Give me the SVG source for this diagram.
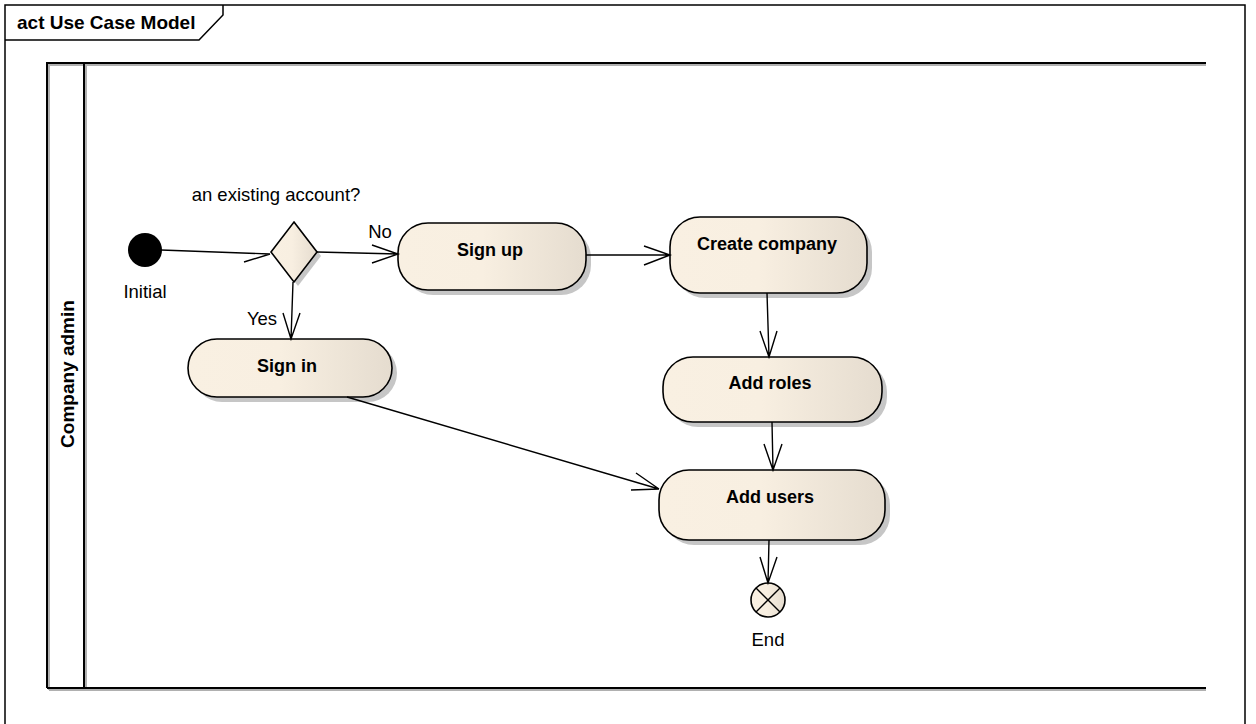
<svg xmlns="http://www.w3.org/2000/svg" width="1256" height="724" viewBox="0 0 1256 724">
  <style>
    .frame { fill: none; stroke: #000; stroke-width: 1.5; }
    .lane { fill: none; stroke: #000; stroke-width: 2; }
    .laneShadow { fill: none; stroke: #b0b0b0; stroke-width: 2; }
    .act { fill: url(#actFill); stroke: #000; stroke-width: 1.6; }
    .shadow { fill: #c6c6c6; stroke: none; }
    .edge { fill: none; stroke: #000; stroke-width: 1.4; }
    .title { font-family: "Liberation Sans", Arial, sans-serif; font-weight: bold; font-size: 19px; fill: #000; }
    .label { font-family: "Liberation Sans", Arial, sans-serif; font-weight: bold; font-size: 18px; fill: #000; text-anchor: middle; }
    .note { font-family: "Liberation Sans", Arial, sans-serif; font-size: 18.5px; fill: #000; text-anchor: middle; }
  </style>
  <defs>
    <linearGradient id="actFill" x1="0" y1="0" x2="1" y2="0">
      <stop offset="0" stop-color="#f9f0e2"/>
      <stop offset="0.45" stop-color="#f8efe1"/>
      <stop offset="1" stop-color="#e5dccf"/>
    </linearGradient>
  </defs>

  <rect width="1256" height="724" fill="#fff"/>

  <!-- diagram frame and title tab -->
  <g id="frame">
    <path class="frame" d="M5,724 V5 H1245 V724"/>
    <path class="frame" d="M5,40 H199 L223,15 V5"/>
    <text class="title" x="17" y="29">act Use Case Model</text>
  </g>

  <!-- swimlane -->
  <g id="lane-company-admin">
    <path class="laneShadow" d="M49,690 V65 H1206 M86,65 V690 M49,690 H1206"/>
    <path class="lane" d="M47,688 V63 H1206 M84,63 V688 M47,688 H1206"/>
    <text class="label" style="font-size:19px" transform="translate(74,374) rotate(-90)">Company admin</text>
  </g>

  <!-- initial node -->
  <g id="initial">
    <circle cx="145" cy="250" r="17" fill="#000"/>
    <text class="note" x="145" y="298">Initial</text>
  </g>

  <!-- decision -->
  <g id="decision">
    <path class="shadow" d="M298,226 L321,256 L298,286 L275,256 Z"/>
    <path class="act" d="M294,222 L317,252 L294,282 L271,252 Z"/>
  </g>

  <g id="sign-up">
    <rect class="shadow" x="403" y="228" width="188" height="67" rx="30"/>
    <rect class="act" x="398" y="223" width="188" height="67" rx="30"/>
    <text class="label" x="490" y="256">Sign up</text>
  </g>

  <g id="create-company">
    <rect class="shadow" x="675" y="222" width="197" height="76" rx="30"/>
    <rect class="act" x="670" y="217" width="197" height="76" rx="30"/>
    <text class="label" x="767" y="250">Create company</text>
  </g>

  <g id="add-roles">
    <rect class="shadow" x="668" y="362" width="219" height="65" rx="30"/>
    <rect class="act" x="663" y="357" width="219" height="65" rx="30"/>
    <text class="label" x="770" y="389">Add roles</text>
  </g>

  <g id="add-users">
    <rect class="shadow" x="664" y="475" width="226" height="70" rx="30"/>
    <rect class="act" x="659" y="470" width="226" height="70" rx="30"/>
    <text class="label" x="770" y="503">Add users</text>
  </g>

  <g id="sign-in">
    <rect class="shadow" x="193" y="344" width="204" height="58" rx="29"/>
    <rect class="act" x="188" y="339" width="204" height="58" rx="29"/>
    <text class="label" x="287" y="372">Sign in</text>
  </g>

  <!-- flow final -->
  <g id="end">
    <circle cx="768" cy="600" r="17" class="act"/>
    <path class="edge" d="M756,588 L780,612 M780,588 L756,612"/>
    <text class="note" x="768" y="646">End</text>
  </g>

  <!-- connectors (drawn over node shadows) -->
  <g id="connectors">
    <path class="edge" d="M161,250 L270,254 M270,254 L244,262"/>
    <path class="edge" d="M317,252 L398,254 M372,245 L398,254 L372,263"/>
    <path class="edge" d="M293,282 L291,339 M283,313 L291,339 L300,313"/>
    <path class="edge" d="M586,255 L670,255 M644,246 L670,255 L644,265"/>
    <path class="edge" d="M767,293 L769,357 M760,331 L769,357 L777,331"/>
    <path class="edge" d="M772,422 L773,470 M764,444 L773,470 L782,444"/>
    <path class="edge" d="M347,397 L659,489 M631,490 L659,489 M636,473 L659,489"/>
    <path class="edge" d="M769,540 L768,583 M760,557 L768,583 L777,557"/>
    <text class="note" x="276" y="201">an existing account?</text>
    <text class="note" x="380" y="238">No</text>
    <text class="note" x="262" y="325">Yes</text>
  </g>
</svg>
